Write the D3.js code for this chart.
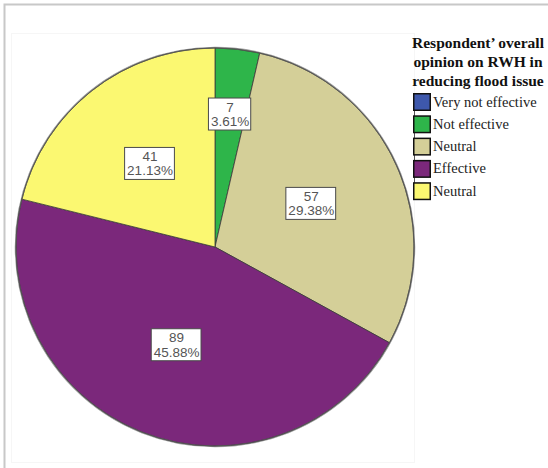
<!DOCTYPE html>
<html>
<head>
<meta charset="utf-8">
<script src="https://cdn.jsdelivr.net/npm/d3@7"></script>
<style>
html,body{margin:0;padding:0;background:#fff;}
svg{display:block;}
</style>
</head>
<body>
<svg id="chart" width="548" height="468"></svg>
<script>
const categories = ["Very not effective", "Not effective", "Neutral", "Effective", "Neutral"];
const counts = [0, 7, 57, 89, 41];
const percentLabels = ["0.00%", "3.61%", "29.38%", "45.88%", "21.13%"];
const colors = ["#3E58AC", "#2EB54A", "#D4CF98", "#7B287B", "#FBF871"];
const titleLines = ["Respondent\u2019 overall", "opinion on RWH in", "reducing flood issue"];

const svg = d3.select("#chart");
const W = 548, H = 468;

// outer frame
svg.append("rect").attr("x", 4.5).attr("y", 4.5).attr("width", W + 10).attr("height", H + 10)
  .attr("fill", "none").attr("stroke", "#c8c8c8").attr("stroke-width", 2);
// inner faint plot area
svg.append("rect").attr("x", 11.5).attr("y", 33.5).attr("width", 403).attr("height", 429)
  .attr("fill", "none").attr("stroke", "#f6f6f6").attr("stroke-width", 1);

const cx = 215, cy = 247, R = 199;
const data = categories.map((c, i) => ({ cat: c, value: counts[i], pct: percentLabels[i], color: colors[i] }));

const pie = d3.pie().value(d => d.value).sort(null).startAngle(0).endAngle(2 * Math.PI);
const arcs = pie(data);
const arc = d3.arc().innerRadius(0).outerRadius(R);

const g = svg.append("g").attr("transform", `translate(${cx},${cy})`);

// soft outer shadow edge
g.append("circle").attr("r", R + 0.5).attr("fill", "none").attr("stroke", "#999").attr("stroke-width", 1.5);

g.selectAll("path.slice").data(arcs.filter(a => a.data.value > 0)).join("path")
  .attr("class", "slice")
  .attr("d", arc)
  .attr("fill", d => d.data.color)
  .attr("stroke", "#3a3a3a").attr("stroke-width", 0.8);

g.append("circle").attr("r", R).attr("fill", "none").attr("stroke", "#555").attr("stroke-width", 0.8);

// labels
const total = d3.sum(counts);
const labelG = g.selectAll("g.lab").data(arcs.filter(a => a.data.value > 0)).join("g").attr("class", "lab")
  .attr("transform", d => {
    const share = d.data.value / total;
    const lr = share < 0.05 ? R * 0.67 : R * 0.53;
    const a = (d.startAngle + d.endAngle) / 2;
    return `translate(${lr * Math.sin(a)},${-lr * Math.cos(a)})`;
  });

labelG.each(function(d) {
  const sel = d3.select(this);
  const t1 = String(d.data.value), t2 = d.data.pct;
  const rect = sel.append("rect").attr("fill", "#fff").attr("stroke", "#4a4a4a").attr("stroke-width", 1);
  const txt = sel.append("text").attr("text-anchor", "middle")
    .style("font-family", "Liberation Sans, Arial, sans-serif").style("font-size", "13.5px").attr("fill", "#555");
  txt.append("tspan").attr("x", 0).attr("y", -3).text(t1);
  txt.append("tspan").attr("x", 0).attr("y", 11.5).text(t2);
  const bb = txt.node().getBBox();
  const w = bb.width + 4;
  rect.attr("x", -w / 2 - 0.5).attr("y", -16.5).attr("width", w).attr("height", 32);
});

// legend title
const leg = svg.append("g");
leg.selectAll("text.title").data(titleLines).join("text").attr("class", "title")
  .attr("x", 478).attr("y", (d, i) => 48 + i * 19)
  .attr("text-anchor", "middle")
  .style("font-family", "Liberation Serif, Times New Roman, serif")
  .style("font-weight", "bold").style("font-size", "15.5px").attr("fill", "#111")
  .text(d => d);

// connecting line behind swatches
leg.append("line").attr("x1", 414.5).attr("x2", 414.5).attr("y1", 102).attr("y2", 190)
  .attr("stroke", "#555").attr("stroke-width", 1);

const items = leg.selectAll("g.item").data(data).join("g").attr("class", "item")
  .attr("transform", (d, i) => `translate(413,${93 + i * 22.3})`);
items.append("rect").attr("x", 0.75).attr("y", 0.75).attr("width", 16.5).attr("height", 16.5)
  .attr("fill", d => d.color).attr("stroke", "#111").attr("stroke-width", 1.5);
items.append("text").attr("x", 20).attr("y", 13.5)
  .style("font-family", "Liberation Serif, Times New Roman, serif").style("font-size", "14.5px")
  .attr("fill", "#222").text(d => d.cat);
</script>
</body>
</html>
